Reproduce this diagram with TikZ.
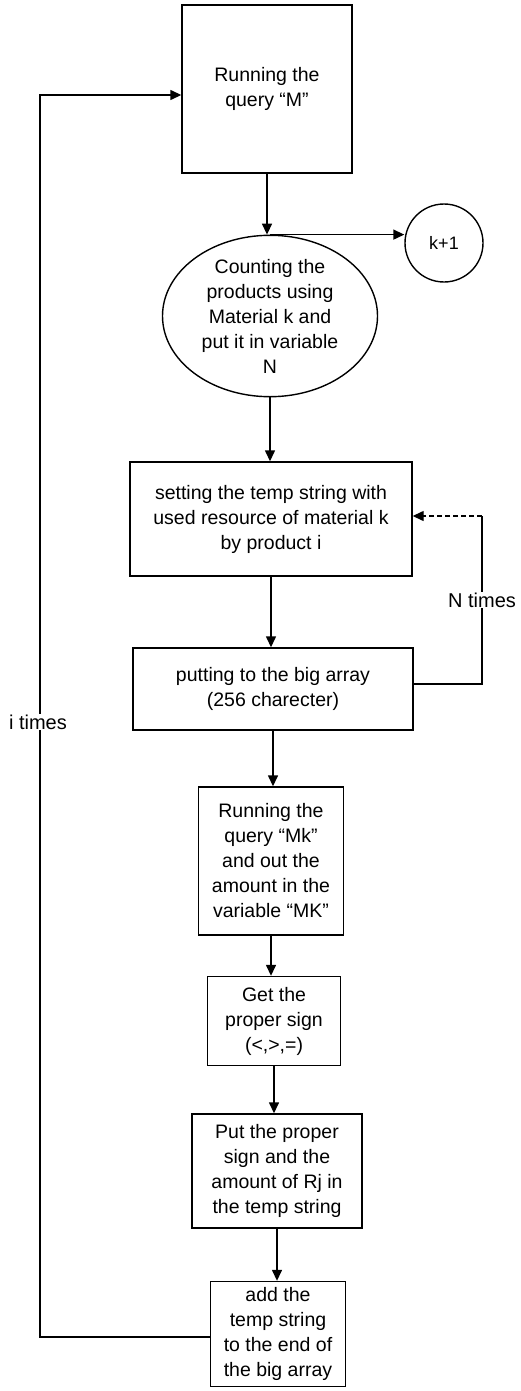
\documentclass[tikz,border=0pt]{standalone}
\usepackage{fontspec}
\setmainfont{Liberation Sans}
\usetikzlibrary{arrows.meta,positioning,calc,shapes.geometric}

\tikzset{
  stepbox/.style={draw,line width=1.4pt,align=center,inner sep=2pt,
    font=\fontsize{19.5}{25}\selectfont},
  lbl/.style={font=\fontsize{20}{25}\selectfont,fill=white,inner sep=1pt},
  flow/.style={line width=1.4pt}
}

\begin{document}
\begin{tikzpicture}[x=1pt,y=-1pt,>={Triangle[length=11pt,width=10pt]}]
    \useasboundingbox (0,0) rectangle (520,1391);

    \node[stepbox,minimum width=170pt,minimum height=168pt] (query) at (267,89) {Running the\\query ``M''};
    \node[stepbox,ellipse,inner sep=0pt,minimum width=215pt,minimum height=143pt] (count) at (270,316)
      {Counting the\\products using\\Material k and\\put it in variable\\N};
    \node[stepbox,circle,minimum size=78pt,font=\fontsize{18}{22}\selectfont] (knext) at (444,243) {k+1};
    \node[stepbox,minimum width=282pt,minimum height=114pt] (temp) at (271,519)
      {setting the temp string with\\used resource of material k\\by product i};
    \node[stepbox,minimum width=280pt,minimum height=82pt] (putarr) at (273,689)
      {putting to the big array\\(256 charecter)};
    \node[stepbox,minimum width=145pt,minimum height=148pt] (querymk) at (271,861)
      {Running the\\query ``Mk''\\and out the\\amount in the\\variable ``MK''};
    \node[stepbox,minimum width=133pt,minimum height=89pt] (sign) at (274,1021)
      {Get the\\proper sign\\(<,>,=)};
    \node[stepbox,minimum width=170pt,minimum height=114pt] (putsign) at (277,1171)
      {Put the proper\\sign and the\\amount of Rj in\\the temp string};
    \node[stepbox,minimum width=135pt,minimum height=105pt] (addend) at (278,1334)
      {add the\\temp string\\to the end of\\the big array};

    % main chain
    \draw[flow,->] (query.south) -- (query.south |- count.north);
    \draw[flow,->] (count.north) -- (count.north -| knext.west);
    \draw[flow,->] (count.south) -- (count.south |- temp.north);
    \draw[flow,->] (temp.south) -- (temp.south |- putarr.north);
    \draw[flow,->] (putarr.south) -- (putarr.south |- querymk.north);
    \draw[flow,->] (querymk.south) -- (querymk.south |- sign.north);
    \draw[flow,->] (sign.south) -- (sign.south |- putsign.north);
    \draw[flow,->] (putsign.south) -- (putsign.south |- addend.north);

    % inner loop (N times)
    \coordinate (nlow) at (482,684);
    \coordinate (nhigh) at (482,516);
    \draw[flow] (putarr.east |- nlow) -- (nlow) -- (nhigh);
    \draw[flow,dash pattern=on 5pt off 3pt,->] (nhigh) -- (temp.east |- nhigh);
    \node[lbl] (ntimes) at (482,600) {N times};

    % outer loop (i times)
    \coordinate (ilow) at (40,1337);
    \coordinate (ihigh) at (40,95);
    \draw[flow,->] (addend.west |- ilow) -- (ilow) -- (ihigh) -- (query.west |- ihigh);
    \node[lbl] (itimes) at (38,722) {i times};
\end{tikzpicture}
\end{document}
